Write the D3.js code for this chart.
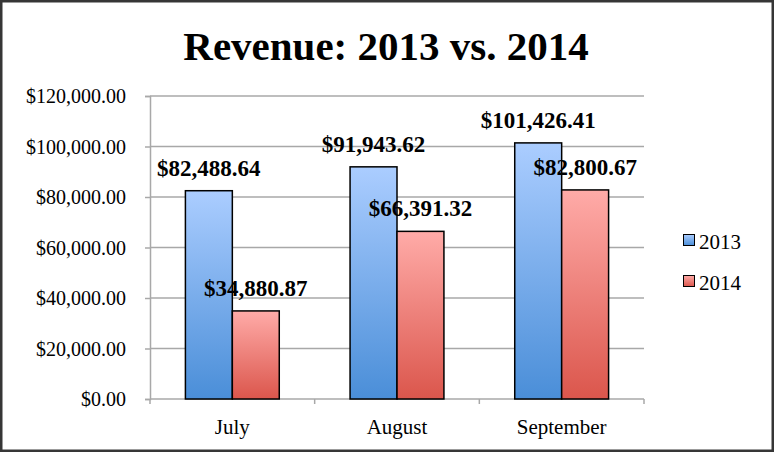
<!DOCTYPE html>
<html><head><meta charset="utf-8">
<script src="https://cdn.jsdelivr.net/npm/d3@7"></script>
<style>body{margin:0;background:#fff}svg{display:block}</style>
</head><body>
<svg id="c" width="774" height="452"></svg>
<script>
const title = "Revenue: 2013 vs. 2014";
const categories = ["July", "August", "September"];
const seriesNames = ["2013", "2014"];
const values2013 = [82488.64, 91943.62, 101426.41];
const values2014 = [34880.87, 66391.32, 82800.67];
const yTicks = [0, 20000, 40000, 60000, 80000, 100000, 120000];

const svg = d3.select("#c");
const W = 774, H = 452;
const m = {left:150, right:130, top:96, bottom:53};
const pw = W - m.left - m.right, ph = H - m.top - m.bottom;
const serif = "'Liberation Serif', 'Times New Roman', serif";

svg.append("rect").attr("x",1.25).attr("y",1.25).attr("width",W-2.5).attr("height",H-2.5)
  .attr("fill","#fff").attr("stroke","#363636").attr("stroke-width",2.5);

const defs = svg.append("defs");
const grads = [["g2013","#abcdff","#4a8ed8"],["g2014","#ffaba8","#db564c"]];
grads.forEach(([id,c1,c2])=>{
  const g = defs.append("linearGradient").attr("id",id).attr("x1",0).attr("y1",0).attr("x2",0).attr("y2",1);
  g.append("stop").attr("offset","0%").attr("stop-color",c1);
  g.append("stop").attr("offset","100%").attr("stop-color",c2);
});

const x = d3.scaleBand().domain(categories).range([0,pw]).paddingInner(0).paddingOuter(0);
const y = d3.scaleLinear().domain([0,120000]).range([ph,0]);
const barW = x.bandwidth()*0.285;

const g = svg.append("g").attr("transform",`translate(${m.left},${m.top})`);

// gridlines
g.selectAll(".grid").data(yTicks.slice(1)).join("line")
  .attr("x1",0).attr("x2",pw).attr("y1",d=>y(d)).attr("y2",d=>y(d))
  .attr("stroke","#a8a8a8").attr("stroke-width",1.5);

// y axis
const fmt = d3.format("$,.2f");
const ya = g.append("g").call(d3.axisLeft(y).tickValues(yTicks).tickFormat(fmt).tickSize(5).tickPadding(19));
ya.select(".domain").attr("stroke","#a8a8a8").attr("stroke-width",1.5);
ya.selectAll(".tick line").attr("stroke","#a8a8a8").attr("stroke-width",1.5);
ya.selectAll("text").attr("font-family",serif).attr("font-size",20).attr("fill","#000").attr("dy","0.33em");

// x axis
const xa = g.append("g").attr("transform",`translate(0,${ph})`)
  .call(d3.axisBottom(x).tickSize(0).tickPadding(20));
xa.select(".domain").attr("stroke","#a8a8a8").attr("stroke-width",1.5).attr("d",`M0,0H${pw}`);
xa.selectAll("text").attr("font-family",serif).attr("font-size",21).attr("fill","#000");
xa.selectAll(".bound").data(categories.map((c,i)=>i).concat([3])).join("line")
  .attr("x1",i=>i*x.step()).attr("x2",i=>i*x.step()).attr("y1",0).attr("y2",5)
  .attr("stroke","#a8a8a8").attr("stroke-width",1.5);

const series = [values2013, values2014];
series.forEach((vals,si)=>{
  const gx = c => x(c) + x.bandwidth()/2 - barW + si*barW;
  g.selectAll(".bar"+si).data(categories).join("rect")
    .attr("x",(c)=>gx(c)).attr("width",barW)
    .attr("y",(c,i)=>y(vals[i])).attr("height",(c,i)=>ph-y(vals[i]))
    .attr("fill",`url(#g${seriesNames[si]})`).attr("stroke","#000").attr("stroke-width",1.5);
  g.selectAll(".lab"+si).data(categories).join("text")
    .attr("x",c=>gx(c)+barW/2).attr("y",(c,i)=>y(vals[i])-15)
    .attr("text-anchor","middle").attr("font-family",serif).attr("font-weight","bold")
    .attr("font-size",23).attr("fill","#000").text((c,i)=>fmt(vals[i]));
});

// legend
const lg = svg.append("g");
seriesNames.forEach((s,i)=>{
  lg.append("rect").attr("x",683.5).attr("y",234.5+i*41).attr("width",11).attr("height",11)
    .attr("fill",`url(#g${s})`).attr("stroke","#000").attr("stroke-width",1);
  lg.append("text").attr("x",699).attr("y",249+i*41).attr("font-family",serif).attr("font-size",21)
    .attr("fill","#000").text(s);
});

svg.append("text").attr("x",386).attr("y",60).attr("text-anchor","middle")
  .attr("font-family",serif).attr("font-weight","bold").attr("font-size",41).attr("fill","#000").text(title);
</script>
</body></html>
